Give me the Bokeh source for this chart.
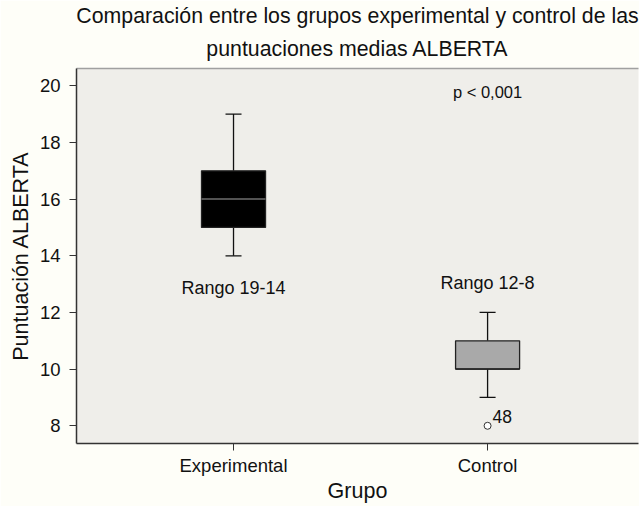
from bokeh.plotting import figure
from bokeh.models import FixedTicker, Range1d, Title, LinearAxis
from bokeh.core.properties import value
from bokeh.embed import file_html
from bokeh.resources import INLINE

# ---- data ----
groups = ["Experimental", "Control"]
whisker_hi = [19, 12]
q3 = [17, 11]
medians = [16, 10]
q1 = [15, 10]
whisker_lo = [14, 9]
box_colors = ["#000000", "#a9a9a9"]
median_colors = ["#6e6e6e", "#222222"]
outlier_group = ["Control"]
outlier_values = [8]
outlier_labels = ["48"]
range_labels = ["Rango 19-14", "Rango 12-8"]
range_label_y = [12.85, 13.05]
p_text = ["p < 0,001"]
p_text_group = ["Control"]
p_text_y = [19.78]
y_ticks = [8, 10, 12, 14, 16, 18, 20]
title_lines = ["Comparación entre los grupos experimental y control de las",
               "puntuaciones medias ALBERTA"]

FONT = "Liberation Sans"
xpos = list(range(1, len(groups) + 1))
pos = {g: i for g, i in zip(groups, xpos)}
BOX_W = 0.252
CAP_W = 0.063

p = figure(width=639, height=506, x_range=Range1d(0.382, 2.594),
           y_range=Range1d(7.375, 20.61), output_backend="svg",
           toolbar_location=None, title=None,
           min_border_left=76, min_border_right=1, min_border_top=68,
           min_border_bottom=63)

p.background_fill_color = "#efeeea"
p.border_fill_color = "#fefef8"
p.outline_line_color = None
p.xgrid.visible = False
p.ygrid.visible = False

# whiskers
p.segment(x0=xpos, y0=q3, x1=xpos, y1=whisker_hi, line_color="#111111", line_width=1.3)
p.segment(x0=xpos, y0=q1, x1=xpos, y1=whisker_lo, line_color="#111111", line_width=1.3)
# caps
p.segment(x0=[x - CAP_W / 2 for x in xpos], y0=whisker_hi,
          x1=[x + CAP_W / 2 for x in xpos], y1=whisker_hi, line_color="#111111", line_width=1.3)
p.segment(x0=[x - CAP_W / 2 for x in xpos], y0=whisker_lo,
          x1=[x + CAP_W / 2 for x in xpos], y1=whisker_lo, line_color="#111111", line_width=1.3)
# boxes
p.vbar(x=xpos, width=BOX_W, top=q3, bottom=q1, fill_color=box_colors,
       line_color="#222222", line_width=1.3)
# medians
p.segment(x0=[x - BOX_W / 2 for x in xpos], y0=medians,
          x1=[x + BOX_W / 2 for x in xpos], y1=medians,
          line_color=median_colors, line_width=1.5)

# outliers
ox = [pos[g] for g in outlier_group]
p.scatter(x=ox, y=outlier_values, size=7, fill_color="white",
          line_color="#333333", line_width=1)
p.text(x=ox, y=outlier_values, text=outlier_labels, x_offset=5, y_offset=-9,
       text_align="left", text_baseline="middle", text_font=value(FONT),
       text_font_size="17.5px", text_color="#111111")

# annotations
p.text(x=xpos, y=range_label_y, text=range_labels, text_align="center",
       text_baseline="middle", text_font=value(FONT), text_font_size="18px",
       text_color="#111111")
p.text(x=[pos[g] for g in p_text_group], y=p_text_y, text=p_text,
       text_align="center", text_baseline="middle", text_font=value(FONT),
       text_font_size="16.5px", text_color="#111111")

# axes
for ax in (p.xaxis[0], p.yaxis[0]):
    ax.axis_line_color = "#333333"
    ax.axis_line_width = 1.5
    ax.major_tick_line_color = "#333333"
    ax.major_tick_in = 0
    ax.major_tick_out = 7
    ax.minor_tick_line_color = None
    ax.major_label_text_font = FONT
    ax.major_label_text_font_size = "18.5px"
    ax.major_label_text_color = "#111111"
    ax.axis_label_text_font = FONT
    ax.axis_label_text_font_size = "21.5px"
    ax.axis_label_text_font_style = "normal"
    ax.axis_label_text_color = "#111111"

p.xaxis[0].ticker = FixedTicker(ticks=xpos)
p.xaxis[0].major_label_overrides = {x: g for x, g in zip(xpos, groups)}
p.xaxis[0].axis_label = "Grupo"
p.xaxis[0].major_label_standoff = 4
p.xaxis[0].axis_label_standoff = 0

p.yaxis[0].ticker = FixedTicker(ticks=y_ticks)
p.yaxis[0].axis_label = "Puntuación ALBERTA"
p.yaxis[0].major_label_standoff = 9
p.yaxis[0].axis_label_standoff = 4

top = LinearAxis(ticker=FixedTicker(ticks=[]), axis_line_color="#a0a0a0",
                 axis_line_width=1.5, major_tick_line_color=None,
                 minor_tick_line_color=None, major_label_text_color=None,
                 major_label_text_font_size="0px")
p.add_layout(top, "above")

title_standoffs = [0, 15]
title_offsets = [-2, 0]
for line, so, off in reversed(list(zip(title_lines, title_standoffs, title_offsets))):
    p.add_layout(Title(text=line, align="center", text_font=FONT,
                       text_font_size="21.3px", text_font_style="normal",
                       text_line_height=1.0, offset=off,
                       text_color="#111111", standoff=so), "above")

open("out.html", "w").write(file_html(p, INLINE))
